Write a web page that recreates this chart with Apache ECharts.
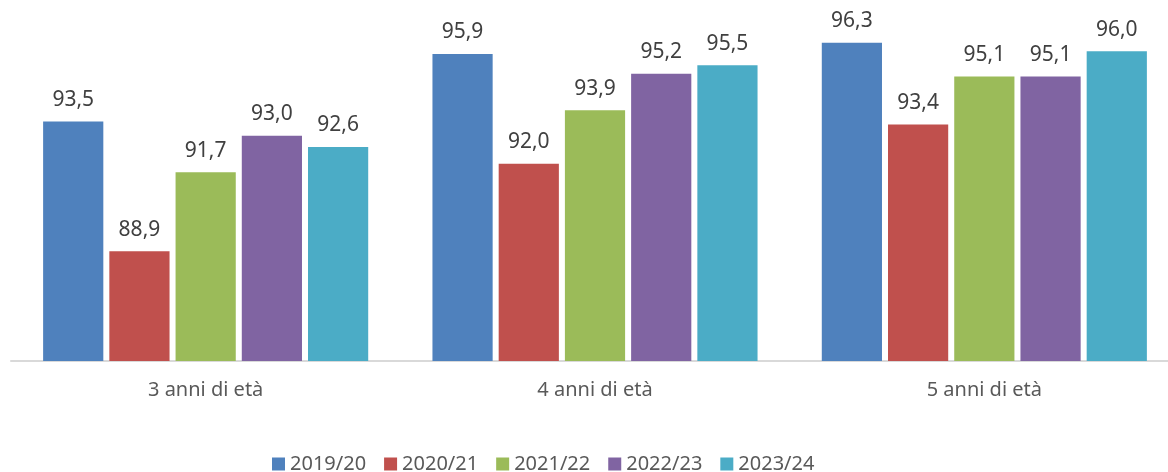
<!DOCTYPE html>
<html>
<head>
<meta charset="utf-8">
<script src="https://cdn.jsdelivr.net/npm/echarts@6/dist/echarts.min.js"></script>
<style>
  html, body { margin: 0; padding: 0; background: #fff; }
  #chart { width: 1168px; height: 472px; }
</style>
</head>
<body>
<div id="chart"></div>
<script>
// categorie e serie (tassi di frequenza, %)
const categorie = ["3 anni di età", "4 anni di età", "5 anni di età"];
const anni = ["2019/20", "2020/21", "2021/22", "2022/23", "2023/24"];
const v2019 = [93.5, 95.9, 96.3];
const v2020 = [88.9, 92.0, 93.4];
const v2021 = [91.7, 93.9, 95.1];
const v2022 = [93.0, 95.2, 95.1];
const v2023 = [92.6, 95.5, 96.0];
const colori = ["#4f81bd", "#c0504d", "#9bbb59", "#8064a2", "#4bacc6"];

const valori = [v2019, v2020, v2021, v2022, v2023];
const FONT = "'Noto Sans', sans-serif";

const chart = echarts.init(document.getElementById("chart"));

chart.setOption({
  animation: false,
  textStyle: { fontFamily: FONT },
  grid: { left: 11, top: 23, width: 1168, height: 338, outerBoundsMode: "none", containLabel: false },
  legend: {
    top: 449,
    left: 267,
    icon: "rect",
    itemWidth: 13,
    itemHeight: 13,
    itemGap: 18,
    textStyle: { color: "#595959", fontSize: 20, fontFamily: FONT },
    data: anni
  },
  xAxis: {
    type: "category",
    data: categorie,
    axisLine: { lineStyle: { color: "#d9d9d9", width: 2 } },
    axisTick: { show: false },
    axisLabel: { color: "#595959", fontSize: 20, margin: 19 }
  },
  yAxis: {
    type: "value",
    min: 85,
    max: 97,
    show: false
  },
  series: valori.map((v, i) => ({
    name: anni[i],
    type: "bar",
    data: v,
    barGap: "10%",
    barCategoryGap: "16.5%",
    itemStyle: { color: colori[i] },
    label: {
      show: true,
      position: "top",
      distance: 11,
      color: "#404040",
      fontSize: 21,
      formatter: p => p.value.toFixed(1).replace(".", ",")
    }
  }))
});
</script>
</body>
</html>
